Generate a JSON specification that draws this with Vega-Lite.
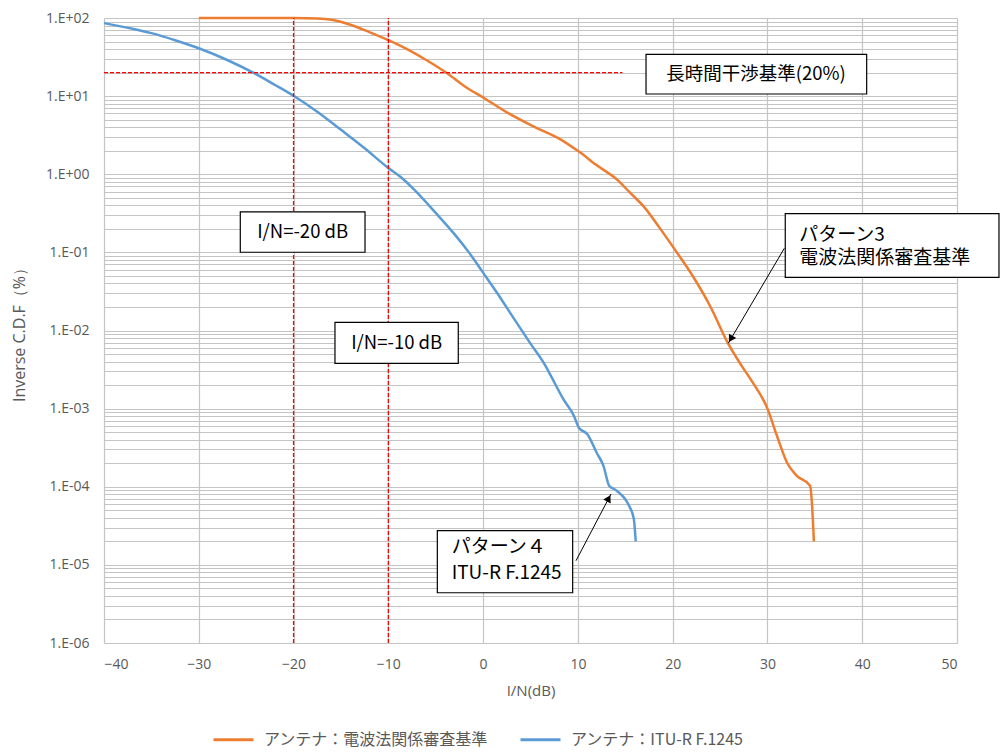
{
  "$schema": "https://vega.github.io/schema/vega-lite/v6.json",
  "width": 853,
  "height": 625,
  "autosize": {"type": "none"},
  "padding": {"left": 104, "top": 18, "right": 43, "bottom": 111},
  "background": "white",
  "config": {
    "view": {"stroke": null},
    "axis": {"labelFont": "Open Sans", "titleFont": "Open Sans", "labelColor": "#595959", "titleColor": "#595959", "gridColor": "#c4c4c4", "gridWidth": 1.2, "domain": false, "ticks": false, "labelFontWeight": "normal", "titleFontWeight": "normal"}
  },
  "datasets": {
    "curves": [
      {"series": "アンテナ：電波法関係審査基準", "x": -30, "y": 100},
      {"series": "アンテナ：電波法関係審査基準", "x": -25, "y": 100},
      {"series": "アンテナ：電波法関係審査基準", "x": -20, "y": 99.8},
      {"series": "アンテナ：電波法関係審査基準", "x": -17.5, "y": 98.5},
      {"series": "アンテナ：電波法関係審査基準", "x": -16, "y": 95},
      {"series": "アンテナ：電波法関係審査基準", "x": -14, "y": 82},
      {"series": "アンテナ：電波法関係審査基準", "x": -12, "y": 66},
      {"series": "アンテナ：電波法関係審査基準", "x": -10, "y": 52},
      {"series": "アンテナ：電波法関係審査基準", "x": -8.7, "y": 44},
      {"series": "アンテナ：電波法関係審査基準", "x": -6, "y": 29},
      {"series": "アンテナ：電波法関係審査基準", "x": -3.8, "y": 19.6},
      {"series": "アンテナ：電波法関係審査基準", "x": -2, "y": 13.5},
      {"series": "アンテナ：電波法関係審査基準", "x": 0, "y": 9.6},
      {"series": "アンテナ：電波法関係審査基準", "x": 2.5, "y": 6.2},
      {"series": "アンテナ：電波法関係審査基準", "x": 5.3, "y": 4.1},
      {"series": "アンテナ：電波法関係審査基準", "x": 8.2, "y": 2.78},
      {"series": "アンテナ：電波法関係審査基準", "x": 10.1, "y": 1.95},
      {"series": "アンテナ：電波法関係審査基準", "x": 12, "y": 1.3},
      {"series": "アンテナ：電波法関係審査基準", "x": 14.2, "y": 0.84},
      {"series": "アンテナ：電波法関係審査基準", "x": 15.5, "y": 0.58},
      {"series": "アンテナ：電波法関係審査基準", "x": 17, "y": 0.38},
      {"series": "アンテナ：電波法関係審査基準", "x": 18.7, "y": 0.2},
      {"series": "アンテナ：電波法関係審査基準", "x": 20.2, "y": 0.11},
      {"series": "アンテナ：電波法関係審査基準", "x": 22.2, "y": 0.048},
      {"series": "アンテナ：電波法関係審査基準", "x": 24, "y": 0.02},
      {"series": "アンテナ：電波法関係審査基準", "x": 25.8, "y": 0.007},
      {"series": "アンテナ：電波法関係審査基準", "x": 27.3, "y": 0.0035},
      {"series": "アンテナ：電波法関係審査基準", "x": 28.2, "y": 0.0024},
      {"series": "アンテナ：電波法関係審査基準", "x": 30, "y": 0.001},
      {"series": "アンテナ：電波法関係審査基準", "x": 31, "y": 0.00045},
      {"series": "アンテナ：電波法関係審査基準", "x": 32.1, "y": 0.0002},
      {"series": "アンテナ：電波法関係審査基準", "x": 33.1, "y": 0.000138},
      {"series": "アンテナ：電波法関係審査基準", "x": 34.5, "y": 0.000103},
      {"series": "アンテナ：電波法関係審査基準", "x": 34.7, "y": 0.00006},
      {"series": "アンテナ：電波法関係審査基準", "x": 34.9, "y": 0.00002},
      {"series": "アンテナ：ITU-R F.1245", "x": -40, "y": 86},
      {"series": "アンテナ：ITU-R F.1245", "x": -37, "y": 73},
      {"series": "アンテナ：ITU-R F.1245", "x": -35, "y": 64},
      {"series": "アンテナ：ITU-R F.1245", "x": -32.5, "y": 52},
      {"series": "アンテナ：ITU-R F.1245", "x": -30, "y": 41},
      {"series": "アンテナ：ITU-R F.1245", "x": -27, "y": 29},
      {"series": "アンテナ：ITU-R F.1245", "x": -24.2, "y": 19.8},
      {"series": "アンテナ：ITU-R F.1245", "x": -22, "y": 14},
      {"series": "アンテナ：ITU-R F.1245", "x": -20, "y": 10.1},
      {"series": "アンテナ：ITU-R F.1245", "x": -17.5, "y": 6.3},
      {"series": "アンテナ：ITU-R F.1245", "x": -15, "y": 3.7},
      {"series": "アンテナ：ITU-R F.1245", "x": -12.5, "y": 2.15},
      {"series": "アンテナ：ITU-R F.1245", "x": -10, "y": 1.2},
      {"series": "アンテナ：ITU-R F.1245", "x": -8.7, "y": 0.92},
      {"series": "アンテナ：ITU-R F.1245", "x": -7.3, "y": 0.64},
      {"series": "アンテナ：ITU-R F.1245", "x": -5, "y": 0.32},
      {"series": "アンテナ：ITU-R F.1245", "x": -3, "y": 0.17},
      {"series": "アンテナ：ITU-R F.1245", "x": -1.5, "y": 0.1},
      {"series": "アンテナ：ITU-R F.1245", "x": 0, "y": 0.055},
      {"series": "アンテナ：ITU-R F.1245", "x": 1.5, "y": 0.03},
      {"series": "アンテナ：ITU-R F.1245", "x": 3.2, "y": 0.0145},
      {"series": "アンテナ：ITU-R F.1245", "x": 5, "y": 0.0068},
      {"series": "アンテナ：ITU-R F.1245", "x": 6.6, "y": 0.0035},
      {"series": "アンテナ：ITU-R F.1245", "x": 7.1, "y": 0.0027},
      {"series": "アンテナ：ITU-R F.1245", "x": 8.5, "y": 0.0013},
      {"series": "アンテナ：ITU-R F.1245", "x": 9.6, "y": 0.0008},
      {"series": "アンテナ：ITU-R F.1245", "x": 10.1, "y": 0.00057},
      {"series": "アンテナ：ITU-R F.1245", "x": 11, "y": 0.00047},
      {"series": "アンテナ：ITU-R F.1245", "x": 12, "y": 0.00027},
      {"series": "アンテナ：ITU-R F.1245", "x": 12.7, "y": 0.000185},
      {"series": "アンテナ：ITU-R F.1245", "x": 13.3, "y": 0.000103},
      {"series": "アンテナ：ITU-R F.1245", "x": 14.1, "y": 0.000089},
      {"series": "アンテナ：ITU-R F.1245", "x": 15.4, "y": 0.000057},
      {"series": "アンテナ：ITU-R F.1245", "x": 15.9, "y": 0.000039},
      {"series": "アンテナ：ITU-R F.1245", "x": 16.1, "y": 0.00002}
    ],
    "refLines": [
      {"x": -20, "x2": -20, "y": 0.000001, "y2": 100},
      {"x": -10, "x2": -10, "y": 0.000001, "y2": 100},
      {"x": -40, "x2": 14.7, "y": 20, "y2": 20}
    ],
    "arrows": [
      {"x": 31.78, "x2": 25.87, "y": 0.1127, "y2": 0.00686},
      {"x": 9.8, "x2": 13.49, "y": 0.0000113, "y2": 0.0000807}
    ],
    "heads": [
      {"x": 26.13, "y": 0.0078, "dir": 210},
      {"x": 13.25, "y": 0.000071, "dir": 28}
    ],
    "boxes": [
      {"x": 17.19, "x2": 40.47, "y": 34.3, "y2": 10.65},
      {"x": -25.62, "x2": -12.46, "y": 0.329, "y2": 0.1003},
      {"x": -15.63, "x2": -2.62, "y": 0.01274, "y2": 0.0038},
      {"x": 31.88, "x2": 54.43, "y": 0.3126, "y2": 0.048},
      {"x": -4.83, "x2": 9.45, "y": 0.0000274, "y2": 0.0000044}
    ],
    "centerText": [
      {"x": 28.79, "y": 19.2, "text": "長時間干渉基準(20%)"},
      {"x": -19.04, "y": 0.1824, "text": "I/N=-20 dB"},
      {"x": -9.12, "y": 0.00696, "text": "I/N=-10 dB"}
    ],
    "leftText": [
      {"x": 33.36, "y": 0.1668, "text": "パターン3"},
      {"x": 33.36, "y": 0.084, "text": "電波法関係審査基準"},
      {"x": -3.32, "y": 0.0000171, "text": "パターン４"},
      {"x": -3.32, "y": 0.0000078, "text": "ITU-R F.1245"}
    ]
  },
  "layer": [
    {
      "data": {"name": "curves"},
      "mark": {"type": "line", "strokeWidth": 2.5, "interpolate": "monotone"},
      "encoding": {
        "x": {
          "field": "x", "type": "quantitative", "title": "I/N(dB)",
          "scale": {"domain": [-40, 50], "nice": false, "zero": false},
          "axis": {"values": [-40, -30, -20, -10, 0, 10, 20, 30, 40, 50], "labelFontSize": 14, "titleFontSize": 15, "labelPadding": 14, "titlePadding": 12, "labelOverlap": false}
        },
        "y": {
          "field": "y", "type": "quantitative", "title": "Inverse C.D.F（%）",
          "scale": {"type": "log", "domain": [0.000001, 100], "nice": false},
          "axis": {
            "values": [0.000001, 0.000002, 0.000003, 0.000004, 0.000005, 0.000006, 0.000007, 0.000008, 0.000009,
                       0.00001, 0.00002, 0.00003, 0.00004, 0.00005, 0.00006, 0.00007, 0.00008, 0.00009,
                       0.0001, 0.0002, 0.0003, 0.0004, 0.0005, 0.0006, 0.0007, 0.0008, 0.0009,
                       0.001, 0.002, 0.003, 0.004, 0.005, 0.006, 0.007, 0.008, 0.009,
                       0.01, 0.02, 0.03, 0.04, 0.05, 0.06, 0.07, 0.08, 0.09,
                       0.1, 0.2, 0.3, 0.4, 0.5, 0.6, 0.7, 0.8, 0.9,
                       1, 2, 3, 4, 5, 6, 7, 8, 9,
                       10, 20, 30, 40, 50, 60, 70, 80, 90, 100],
            "labelExpr": "abs(log(datum.value)/LN10 - round(log(datum.value)/LN10)) < 0.001 ? '1.E' + (datum.value >= 1 ? '+' : '-') + '0' + abs(round(log(datum.value)/LN10)) : ''",
            "labelOverlap": false, "labelBound": false, "labelFontSize": 14, "labelPadding": 15, "titleFontSize": 16, "titlePadding": 18
          }
        },
        "color": {
          "field": "series", "type": "nominal",
          "scale": {"domain": ["アンテナ：電波法関係審査基準", "アンテナ：ITU-R F.1245"], "range": ["#ED7D31", "#5B9BD5"]},
          "legend": {"title": null, "orient": "none", "legendX": 108, "legendY": 700, "direction": "horizontal", "symbolType": "stroke", "symbolSize": 1600, "symbolStrokeWidth": 3, "labelFont": "Noto Sans CJK JP", "labelFontSize": 16, "labelColor": "#595959", "labelOffset": 9, "columnPadding": 25, "padding": 0, "labelLimit": 400}
        }
      }
    },
    {
      "data": {"name": "refLines"},
      "mark": {"type": "rule", "color": "#FF0000", "strokeWidth": 1.3, "strokeDash": [4, 2]},
      "encoding": {
        "x": {"field": "x", "type": "quantitative", "title": "I/N(dB)"},
        "x2": {"field": "x2"},
        "y": {"field": "y", "type": "quantitative", "title": "Inverse C.D.F（%）"},
        "y2": {"field": "y2"}
      }
    },
    {
      "data": {"name": "arrows"},
      "mark": {"type": "rule", "color": "#000000", "strokeWidth": 1},
      "encoding": {
        "x": {"field": "x", "type": "quantitative", "title": "I/N(dB)"},
        "x2": {"field": "x2"},
        "y": {"field": "y", "type": "quantitative", "title": "Inverse C.D.F（%）"},
        "y2": {"field": "y2"}
      }
    },
    {
      "data": {"name": "heads"},
      "mark": {"type": "point", "shape": "triangle-up", "filled": true, "color": "#000000", "size": 70, "opacity": 1},
      "encoding": {
        "x": {"field": "x", "type": "quantitative", "title": "I/N(dB)"},
        "y": {"field": "y", "type": "quantitative", "title": "Inverse C.D.F（%）"},
        "angle": {"field": "dir", "type": "quantitative", "scale": null}
      }
    },
    {
      "data": {"name": "boxes"},
      "mark": {"type": "rect", "fill": "#FFFFFF", "stroke": "#000000", "strokeWidth": 1.2, "clip": false},
      "encoding": {
        "x": {"field": "x", "type": "quantitative", "title": "I/N(dB)"},
        "x2": {"field": "x2"},
        "y": {"field": "y", "type": "quantitative", "title": "Inverse C.D.F（%）"},
        "y2": {"field": "y2"}
      }
    },
    {
      "data": {"name": "centerText"},
      "mark": {"type": "text", "font": "Noto Sans CJK JP", "fontSize": 18.5, "color": "#000000", "align": "center", "baseline": "middle", "clip": false},
      "encoding": {
        "x": {"field": "x", "type": "quantitative", "title": "I/N(dB)"},
        "y": {"field": "y", "type": "quantitative", "title": "Inverse C.D.F（%）"},
        "text": {"field": "text"}
      }
    },
    {
      "data": {"name": "leftText"},
      "mark": {"type": "text", "font": "Noto Sans CJK JP", "fontSize": 19, "color": "#000000", "align": "left", "baseline": "middle", "clip": false},
      "encoding": {
        "x": {"field": "x", "type": "quantitative", "title": "I/N(dB)"},
        "y": {"field": "y", "type": "quantitative", "title": "Inverse C.D.F（%）"},
        "text": {"field": "text"}
      }
    }
  ]
}
